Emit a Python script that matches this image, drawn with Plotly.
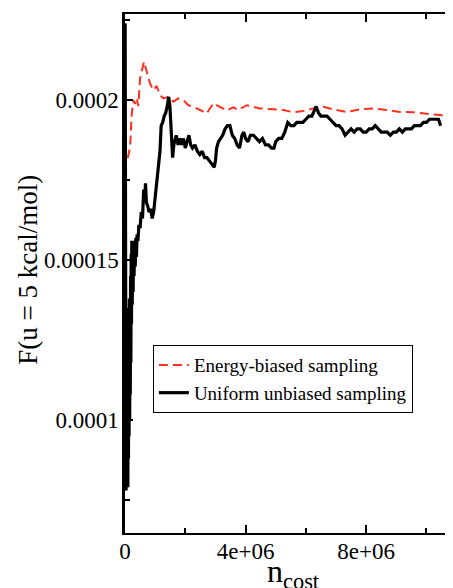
import plotly.graph_objects as go

# ---- data ----
red_x = [0.09, 0.17, 0.22, 0.28, 0.33, 0.39, 0.44, 0.50, 0.63, 0.72, 0.83, 0.94, 1.05, 1.16,
         1.27, 1.44, 1.60, 1.77, 1.93, 2.10, 2.27, 2.49, 2.71, 2.93, 3.15, 3.37, 3.59, 3.76,
         4.04, 4.48, 4.92, 5.25, 5.58, 5.91, 6.25, 6.58, 6.91, 7.35, 7.79, 8.24, 8.68, 9.12,
         9.56, 10.01, 10.45, 10.85]
red_y = [1.818, 1.854, 1.953, 2.000, 1.988, 2.006, 1.981, 2.068, 2.120, 2.088, 2.052, 2.031,
         2.044, 2.016, 2.005, 2.010, 1.995, 2.005, 2.000, 1.984, 1.979, 1.969, 1.958, 1.990,
         1.979, 1.967, 1.977, 1.969, 1.984, 1.974, 1.971, 1.969, 1.962, 1.966, 1.974, 1.979,
         1.971, 1.963, 1.971, 1.974, 1.969, 1.963, 1.962, 1.958, 1.953, 1.948]

black_x = [0.005, 0.015, 0.025, 0.035, 0.045, 0.055, 0.065, 0.075, 0.085, 0.095, 0.105, 0.115,
           0.125, 0.135, 0.145, 0.155, 0.165, 0.175, 0.185, 0.195, 0.205, 0.215, 0.225, 0.24,
           0.255, 0.27, 0.285, 0.30, 0.32, 0.34, 0.36, 0.38, 0.40, 0.43, 0.46, 0.50, 0.54,
           0.58, 0.62, 0.65, 0.68, 0.71, 0.75, 0.80, 0.85, 0.90, 0.95, 1.00, 1.05, 1.10, 1.16,
           1.20, 1.25, 1.30, 1.35, 1.40, 1.45, 1.49, 1.54, 1.58, 1.62, 1.66, 1.70, 1.76, 1.82,
           1.88, 1.94, 2.00, 2.06, 2.12, 2.18, 2.24, 2.32, 2.40, 2.48, 2.56, 2.64, 2.72, 2.80,
           2.88, 2.96, 3.00, 3.04, 3.10, 3.16, 3.24, 3.32, 3.40, 3.48, 3.56, 3.64, 3.72, 3.80,
           3.88, 3.94, 4.00, 4.08, 4.16, 4.26, 4.36, 4.46, 4.56, 4.66, 4.76, 4.86, 4.94, 5.00,
           5.10, 5.20, 5.30, 5.40, 5.50, 5.60, 5.70, 5.80, 5.90, 6.00, 6.10, 6.20, 6.28, 6.34,
           6.42, 6.50, 6.60, 6.70, 6.80, 6.90, 7.00, 7.10, 7.20, 7.30, 7.40, 7.50, 7.60, 7.70,
           7.80, 7.90, 8.00, 8.10, 8.20, 8.30, 8.40, 8.50, 8.60, 8.70, 8.80, 8.90, 9.00, 9.10,
           9.20, 9.30, 9.40, 9.50, 9.60, 9.70, 9.80, 9.90, 10.00, 10.10, 10.20, 10.30, 10.40,
           10.47]
black_y = [2.24, 0.95, 1.60, 0.78, 1.25, 0.80, 1.35, 0.90, 1.18, 0.79, 1.28, 0.88,
           1.22, 0.95, 1.38, 1.00, 1.30, 1.08, 1.45, 1.18, 1.52, 1.30, 1.56, 1.36,
           1.53, 1.40, 1.56, 1.45, 1.55, 1.48, 1.57, 1.51, 1.58, 1.56, 1.61, 1.60, 1.65,
           1.63, 1.72, 1.68, 1.74, 1.68, 1.67, 1.65, 1.66, 1.63, 1.65, 1.70, 1.74, 1.80, 1.84,
           1.92, 1.93, 1.95, 1.96, 1.98, 2.01, 1.98, 1.90, 1.82, 1.86, 1.88, 1.89, 1.86, 1.88,
           1.86, 1.88, 1.85, 1.87, 1.89, 1.86, 1.85, 1.86, 1.84, 1.83, 1.84, 1.82, 1.82, 1.81,
           1.80, 1.79, 1.81, 1.85, 1.87, 1.88, 1.89, 1.91, 1.92, 1.92, 1.89, 1.88, 1.86, 1.85,
           1.89, 1.90, 1.88, 1.87, 1.89, 1.89, 1.88, 1.87, 1.88, 1.86, 1.86, 1.85, 1.85, 1.87,
           1.88, 1.88, 1.90, 1.93, 1.92, 1.92, 1.93, 1.93, 1.93, 1.94, 1.95, 1.95, 1.97, 1.98,
           1.96, 1.95, 1.95, 1.95, 1.94, 1.93, 1.92, 1.92, 1.91, 1.89, 1.90, 1.91, 1.90, 1.91,
           1.91, 1.90, 1.90, 1.91, 1.91, 1.92, 1.91, 1.90, 1.90, 1.90, 1.89, 1.90, 1.90, 1.91,
           1.90, 1.91, 1.91, 1.91, 1.92, 1.92, 1.92, 1.93, 1.93, 1.94, 1.94, 1.94, 1.94,
           1.92]

series_names = ["Energy-biased sampling", "Uniform unbiased sampling"]
x_tick_vals = [0, 4e6, 8e6]
x_tick_text = ["0", "4e+06", "8e+06"]
y_tick_vals = [0.0001, 0.00015, 0.0002]
y_tick_text = ["0.0001", "0.00015", "0.0002"]
x_title = "n<sub>cost</sub>"
y_title = "F(u = 5 kcal/mol)"

# units: x in 1e6, y in 1e-4
rx = [v * 1e6 for v in red_x]
ry = [v * 1e-4 for v in red_y]
bx = [v * 1e6 for v in black_x]
by = [v * 1e-4 for v in black_y]

FONT = "Liberation Serif, Times New Roman, serif"

fig = go.Figure()
fig.add_trace(go.Scatter(x=rx, y=ry, mode="lines", name=series_names[0],
                         line=dict(color="#ff3020", width=2, dash="9px,5px")))
fig.add_trace(go.Scatter(x=bx, y=by, mode="lines", name=series_names[1],
                         line=dict(color="black", width=3.2)))

fig.update_layout(
    width=445, height=580,
    margin=dict(l=117, r=0, t=6, b=55),
    paper_bgcolor="white", plot_bgcolor="white",
    font=dict(family=FONT, color="black"),
    showlegend=True,
    legend=dict(x=0.085, y=0.362, xanchor="left", yanchor="top",
                bordercolor="black", borderwidth=1, bgcolor="white",
                font=dict(family=FONT, size=19, color="black"),
                tracegroupgap=0),
    annotations=[
        dict(text=x_title, xref="paper", yref="paper", x=0.515, y=-0.034,
             xanchor="center", yanchor="top", showarrow=False,
             font=dict(family=FONT, size=32, color="black")),
        dict(text=y_title, xref="paper", yref="paper", x=-0.296, y=0.507,
             xanchor="center", yanchor="middle", showarrow=False, textangle=-90,
             font=dict(family=FONT, size=27, color="black")),
    ],
)
fig.update_xaxes(
    range=[0, 10.88e6], showgrid=False, zeroline=False,
    showline=True, linecolor="black", linewidth=2, mirror="ticks",
    ticks="inside", ticklen=8, tickwidth=1.5, tickcolor="black",
    tickmode="array", tickvals=x_tick_vals, ticktext=x_tick_text,
    tickfont=dict(family=FONT, size=23, color="black"),
    ticklabelstandoff=-4,
    minor=dict(tickmode="linear", tick0=0, dtick=2e6, ticks="inside", ticklen=5,
               tickwidth=1.5, tickcolor="black", showgrid=False),
    automargin=False,
)
fig.update_yaxes(
    range=[0.0000647, 0.0002269], showgrid=False, zeroline=False,
    showline=True, linecolor="black", linewidth=2.5, mirror=False,
    ticks="inside", ticklen=8, tickwidth=1.5, tickcolor="black",
    tickmode="array", tickvals=y_tick_vals, ticktext=y_tick_text,
    tickfont=dict(family=FONT, size=23, color="black"),
    ticklabelstandoff=-1,
    minor=dict(tickmode="linear", tick0=0, dtick=2.5e-5, ticks="inside", ticklen=5,
               tickwidth=1.5, tickcolor="black", showgrid=False),
    automargin=False,
)

fig.write_html("out.html")
